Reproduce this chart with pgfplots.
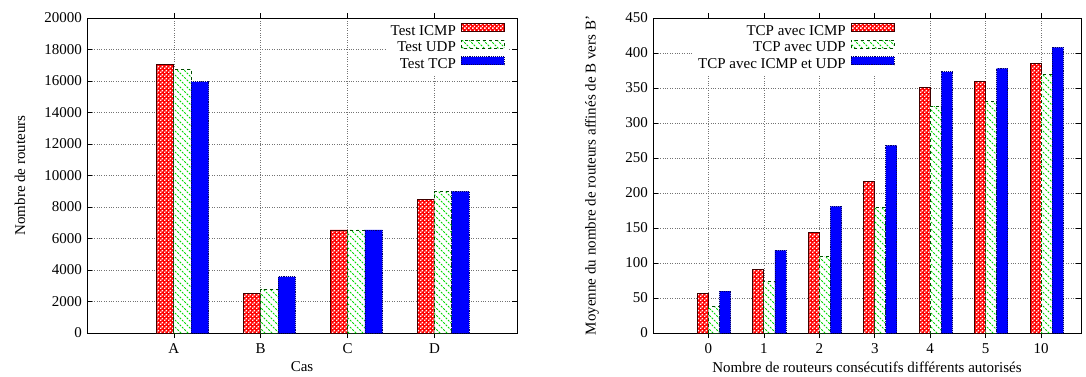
\documentclass[border=0pt]{standalone}
\usepackage{pgfplots}
\pgfplotsset{compat=1.18}
\usetikzlibrary{patterns}
\usepackage{fontspec}
\setmainfont{Liberation Serif}

\pgfdeclarepatternformonly{gpdiag}{\pgfqpoint{-1pt}{-1pt}}{\pgfqpoint{8pt}{8pt}}{\pgfqpoint{7pt}{7pt}}{%
  \pgfsetlinewidth{0.9pt}%
  \pgfsetdash{{2pt}{1.3pt}}{0pt}%
  \pgfpathmoveto{\pgfqpoint{0pt}{7pt}}%
  \pgfpathlineto{\pgfqpoint{7pt}{0pt}}%
  \pgfusepath{stroke}%
}
\pgfdeclarepatternformonly{fincheck}{\pgfpointorigin}{\pgfqpoint{4pt}{4pt}}{\pgfqpoint{4pt}{4pt}}{%
  \pgfpathrectangle{\pgfqpoint{0.15pt}{0.15pt}}{\pgfqpoint{1.7pt}{1.7pt}}%
  \pgfpathrectangle{\pgfqpoint{2.15pt}{2.15pt}}{\pgfqpoint{1.7pt}{1.7pt}}%
  \pgfusepath{fill}%
}

\pgfplotsset{
  sq/.style={legend image code/.code={\draw[##1] (0pt,0pt) rectangle (43pt,8pt);}},
  icmp/.style={sq, preaction={fill=red}, pattern=fincheck, pattern color=white, draw=black!75!red, line width=0.9pt},
  udp/.style={sq, preaction={fill=white}, pattern=gpdiag, pattern color=green!85!black, draw=green!30!black, dashed, line width=0.9pt},
  tcp/.style={sq, fill=blue, draw=blue!40!black, densely dotted, line width=0.9pt},
  common/.style={
    scale only axis, ybar, bar width=0.2,
    axis line style={line width=0.9pt},
    tick style={black, line width=0.7pt},
    major tick length=5pt,
    grid=major,
    major grid style={dotted, black!55, line width=0.6pt},
    scaled y ticks=false,
    /pgf/number format/1000 sep={},
    /pgf/number format/assume math mode=true,
    legend cell align=right,
    legend plot pos=right,
    legend style={draw=none, fill=white, anchor=north east, row sep=0pt, column sep=3pt,
      nodes={inner ysep=1pt, text height=10.5pt, text depth=3.5pt}},
    xlabel style={at={(axis description cs:0.5,-0.108)}, anchor=center},
    ymin=0,
  },
}

\begin{document}
\fontsize{15}{18}\selectfont
\begin{tikzpicture}
\useasboundingbox (0,0) rectangle (1086pt,376pt);
\begin{axis}[common,
  at={(87pt,43pt)}, anchor=south west,
  width=430pt, height=315pt,
  xmin=-1, xmax=3.95, ymax=20000,
  ytick={0,2000,...,20000},
  xtick={0,1,2,3}, xticklabels={A,B,C,D},
  xlabel={Cas}, ylabel={Nombre de routeurs},
  ylabel style={at={(axis description cs:-0.156,0.5)}, anchor=center},
  legend style={at={(axis description cs:0.979,0.99)}},
]
\addplot[icmp, bar shift=-0.1] coordinates {(0,17070) (1,2480) (2,6540) (3,8450)};
\addlegendentry{Test ICMP}
\addplot[udp, bar shift=0.1] coordinates {(0,16750) (1,2780) (2,6540) (3,8980)};
\addlegendentry{Test UDP}
\addplot[tcp, bar shift=0.3] coordinates {(0,15950) (1,3560) (2,6540) (3,9000)};
\addlegendentry{Test TCP}
\end{axis}

\begin{axis}[common,
  at={(653pt,43pt)}, anchor=south west,
  width=428pt, height=315pt,
  xmin=-1, xmax=6.72, ymax=450,
  ytick={0,50,...,450},
  xtick={0,1,2,3,4,5,6}, xticklabels={0,1,2,3,4,5,10},
  xlabel={Nombre de routeurs consécutifs différents autorisés},
  ylabel={Moyenne du nombre de routeurs affinés de B vers B'},
  ylabel style={at={(axis description cs:-0.1425,0.5)}, anchor=center},
  legend style={at={(axis description cs:0.572,0.99)}},
]
\addplot[icmp, bar shift=-0.1] coordinates {(0,56) (1,91) (2,144) (3,217) (4,351) (5,360) (6,385)};
\addlegendentry{TCP avec ICMP}
\addplot[udp, bar shift=0.1] coordinates {(0,38) (1,73) (2,110) (3,180) (4,324) (5,331) (6,369)};
\addlegendentry{TCP avec UDP}
\addplot[tcp, bar shift=0.3] coordinates {(0,60) (1,118) (2,181) (3,268) (4,373) (5,378) (6,408)};
\addlegendentry{TCP avec ICMP et UDP}
\end{axis}
\end{tikzpicture}
\end{document}
